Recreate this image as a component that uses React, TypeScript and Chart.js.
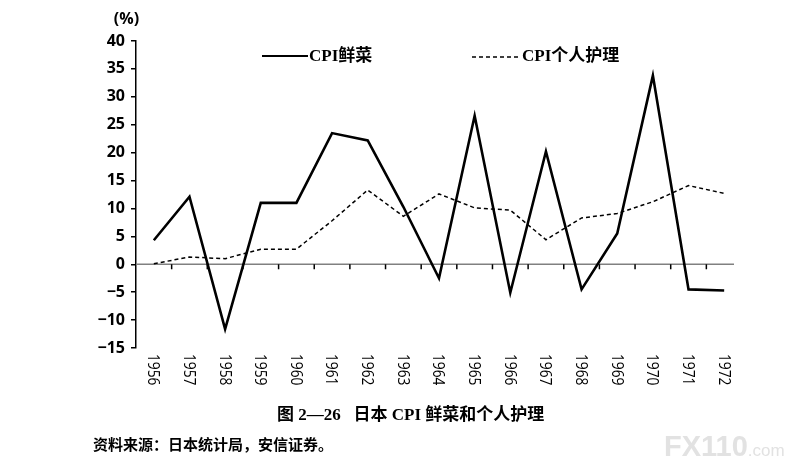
import React, { useEffect, useRef } from "react";
import { Chart, registerables } from "chart.js";

Chart.register(...registerables);

const years = ["1956","1957","1958","1959","1960","1961","1962","1963","1964","1965","1966","1967","1968","1969","1970","1971","1972"];
const freshVeg = [4.3, 12.1, -11.6, 11.0, 11.0, 23.5, 22.2, 10.3, -2.5, 26.6, -5.1, 20.2, -4.5, 5.5, 33.8, -4.5, -4.7];
const personalCare = [0.1, 1.3, 1.0, 2.7, 2.7, 7.8, 13.3, 8.6, 12.6, 10.1, 9.7, 4.4, 8.3, 9.1, 11.2, 14.1, 12.7];
const seriesNames = ["CPI鲜菜", "CPI个人护理"];
const yMin = -15;
const yMax = 40;
const yStep = 5;
const unitLabel = "(%)";
const titleText = "图 2—26   日本 CPI 鲜菜和个人护理";
const sourceText = "资料来源：日本统计局，安信证券。";

const SERIF = "'Liberation Serif', 'Noto Sans CJK SC', serif";
const SANS = "'Open Sans', 'Liberation Sans', Arial, sans-serif";

const customPlugin = {
  id: "customDraw",
  beforeDatasetsDraw(chart: any) {
    const { ctx, chartArea } = chart;
    const y = chart.scales.y;
    const x = chart.scales.x;
    const y0 = y.getPixelForValue(0);
    ctx.save();
    ctx.strokeStyle = "#808080";
    ctx.lineWidth = 1.6;
    ctx.beginPath();
    ctx.moveTo(chartArea.left, y0);
    ctx.lineTo(chartArea.right - 8, y0);
    ctx.stroke();
    ctx.strokeStyle = "#000";
    ctx.lineWidth = 1.5;
    for (let i = 1; i < years.length; i++) {
      const bx = (x.getPixelForValue(i - 1) + x.getPixelForValue(i)) / 2;
      ctx.beginPath();
      ctx.moveTo(bx, y0);
      ctx.lineTo(bx, y0 + 5);
      ctx.stroke();
    }
    ctx.restore();
  },
  afterDraw(chart: any) {
    const { ctx, chartArea } = chart;
    const x = chart.scales.x;
    ctx.save();
    // x labels rotated clockwise
    ctx.fillStyle = "#000";
    ctx.font = "16px " + SANS;
    ctx.textBaseline = "middle";
    ctx.textAlign = "left";
    years.forEach((yr, i) => {
      const px = x.getPixelForValue(i);
      ctx.save();
      ctx.translate(px - 1, chartArea.bottom + 6);
      ctx.rotate(Math.PI / 2);
      ctx.scale(0.86, 1);
      ctx.fillText(yr, 0, 0);
      ctx.restore();
    });
    // unit label
    ctx.fillStyle = "#000";
    ctx.font = "bold 16px " + SANS;
    ctx.textAlign = "center";
    ctx.fillText(unitLabel, 126.5, 19);
    // legend
    ctx.font = "bold 17px " + SERIF;
    ctx.textAlign = "left";
    ctx.strokeStyle = "#000";
    ctx.lineWidth = 2;
    ctx.beginPath();
    ctx.moveTo(262, 56);
    ctx.lineTo(308, 56);
    ctx.stroke();
    ctx.fillText(seriesNames[0], 309, 57);
    ctx.lineWidth = 1.5;
    ctx.setLineDash([4, 3]);
    ctx.beginPath();
    ctx.moveTo(472, 57);
    ctx.lineTo(518, 57);
    ctx.stroke();
    ctx.setLineDash([]);
    ctx.fillText(seriesNames[1], 522, 57);
    ctx.restore();
  },
};

export default function App() {
  const ref = useRef<HTMLCanvasElement>(null);
  useEffect(() => {
    if (!ref.current) return;
    const chart = new Chart(ref.current, {
      type: "line",
      data: {
        labels: years,
        datasets: [
          {
            label: seriesNames[0],
            data: freshVeg,
            borderColor: "#000",
            borderWidth: 2.6,
            pointRadius: 0,
            tension: 0,
            fill: false,
          },
          {
            label: seriesNames[1],
            data: personalCare,
            borderColor: "#000",
            borderWidth: 1.5,
            borderDash: [4, 3],
            pointRadius: 0,
            tension: 0,
            fill: false,
          },
        ],
      },
      options: {
        responsive: false,
        animation: false,
        layout: { padding: { left: 0, top: 41, right: 58, bottom: 125 } },
        plugins: {
          legend: { display: false },
          title: { display: false },
          tooltip: { enabled: false },
        },
        scales: {
          x: {
            type: "category",
            offset: true,
            display: false,
          },
          y: {
            min: yMin,
            max: yMax,
            afterFit: (scale: any) => {
              scale.width = 136;
            },
            ticks: {
              stepSize: yStep,
              padding: 6,
              color: "#000",
              font: { family: SANS, size: 16, weight: "bold" },
              callback: (v: any) => (Number(v) < 0 ? "−" + Math.abs(Number(v)) : String(v)),
            },
            grid: {
              drawOnChartArea: false,
              drawTicks: true,
              tickLength: 5,
              color: "#000",
              lineWidth: 1.5,
            },
            border: { display: true, color: "#000", width: 1.5 },
          },
        },
      },
      plugins: [customPlugin],
    });
    return () => chart.destroy();
  }, []);

  return (
    <div style={{ position: "absolute", left: 0, top: 0, width: 800, height: 473, background: "#fff", overflow: "hidden" }}>
      <canvas ref={ref} width={800} height={473} style={{ width: 800, height: 473, display: "block" }} />
      <div
        style={{
          position: "absolute",
          left: 277,
          top: 404,
          whiteSpace: "pre",
          font: "bold 17px " + SERIF,
          lineHeight: "22px",
          color: "#000",
        }}
      >
        {titleText}
      </div>
      <div
        style={{
          position: "absolute",
          left: 93,
          top: 434,
          whiteSpace: "pre",
          font: "bold 15px " + SERIF,
          lineHeight: "22px",
          color: "#000",
        }}
      >
        {sourceText}
      </div>
      <div
        style={{
          position: "absolute",
          left: 664,
          top: 429,
          whiteSpace: "pre",
          fontFamily: "'Liberation Sans', Arial, sans-serif",
          color: "#e2e2e2",
          lineHeight: "34px",
        }}
      >
        <span style={{ fontSize: 29, fontWeight: "bold" }}>FX110</span>
        <span style={{ fontSize: 17 }}>.com</span>
      </div>
    </div>
  );
}
